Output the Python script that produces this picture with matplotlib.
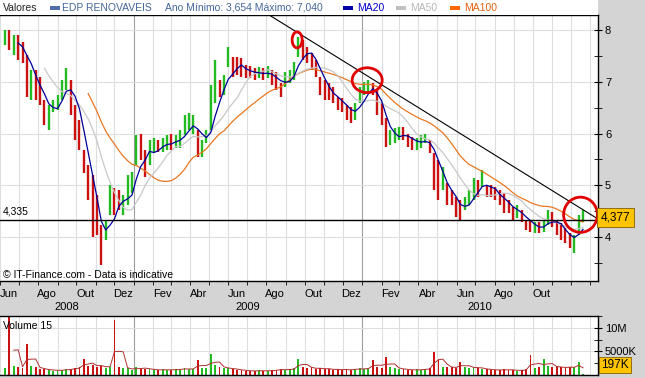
import matplotlib
matplotlib.use('Agg')
import matplotlib.pyplot as plt
import matplotlib.dates as mdates
from matplotlib.patches import Ellipse, Rectangle
from matplotlib.transforms import blended_transform_factory
import pandas as pd

plt.rcParams['font.family'] = ['Liberation Sans', 'DejaVu Sans']

# weekly bars (EUR)
start = '2008-06-09'
high = [8.00, 8.00, 7.90, 7.90, 7.77, 7.52, 7.23, 7.23, 7.09, 6.65,
        6.55, 6.65, 6.74, 7.03, 7.27, 7.03, 6.55, 6.26, 5.68, 5.39,
        5.20, 4.81, 4.23, 4.33, 5.00, 4.95, 4.91, 4.81, 5.20, 5.26,
        5.97, 6.00, 5.68, 5.87, 5.91, 5.87, 5.91, 5.97, 6.00, 5.97,
        6.07, 6.36, 6.39, 6.36, 6.07, 5.87, 6.07, 6.94, 7.42, 7.03,
        7.13, 7.67, 7.48, 7.48, 7.46, 7.32, 7.30, 7.27, 7.28, 7.27,
        7.30, 7.23, 7.19, 6.98, 7.19, 7.23, 7.38, 7.86, 7.81, 7.67,
        7.56, 7.42, 7.09, 7.03, 6.98, 6.90, 6.71, 6.69, 6.55, 6.51,
        6.59, 6.90, 7.00, 7.03, 6.98, 6.84, 6.59, 6.30, 6.07, 6.10,
        6.12, 6.12, 6.00, 5.93, 5.91, 5.97, 6.00, 5.87, 5.62, 5.49,
        5.36, 5.05, 4.91, 4.78, 4.71, 4.78, 4.91, 5.14, 5.10, 5.30,
        5.00, 5.00, 4.97, 4.91, 4.85, 4.71, 4.58, 4.62, 4.52, 4.33,
        4.33, 4.29, 4.29, 4.33, 4.52, 4.48, 4.33, 4.27, 4.17, 4.08,
        4.04, 4.43, 4.52]
low = [7.71, 7.61, 7.52, 7.42, 7.36, 6.71, 6.65, 6.65, 6.55, 6.16,
       6.07, 6.41, 6.45, 6.65, 6.84, 6.36, 5.87, 5.68, 5.24, 4.71,
       4.00, 4.04, 3.46, 3.94, 4.43, 4.43, 4.52, 4.43, 4.62, 4.85,
       5.39, 5.49, 5.16, 5.39, 5.62, 5.64, 5.64, 5.68, 5.68, 5.72,
       5.72, 5.97, 6.07, 6.00, 5.55, 5.55, 5.81, 6.07, 6.59, 6.71,
       6.74, 7.28, 7.09, 7.13, 7.09, 7.07, 7.07, 7.03, 7.07, 7.03,
       7.07, 6.94, 6.84, 6.71, 6.90, 6.98, 7.03, 7.48, 7.42, 7.36,
       7.23, 7.09, 6.74, 6.65, 6.65, 6.59, 6.45, 6.41, 6.26, 6.20,
       6.26, 6.59, 6.74, 6.80, 6.74, 6.36, 6.16, 5.74, 5.78, 5.81,
       5.87, 5.87, 5.74, 5.68, 5.68, 5.72, 5.81, 5.62, 4.91, 4.71,
       4.91, 4.62, 4.62, 4.39, 4.33, 4.52, 4.62, 4.71, 4.78, 4.97,
       4.78, 4.78, 4.71, 4.62, 4.46, 4.46, 4.33, 4.37, 4.29, 4.14,
       4.10, 4.08, 4.08, 4.10, 4.23, 4.20, 4.04, 3.94, 3.88, 3.79,
       3.69, 4.04, 4.29]
close = [7.80, 7.71, 7.77, 7.71, 7.52, 7.03, 7.13, 6.84, 6.74, 6.36,
         6.36, 6.55, 6.65, 6.94, 7.13, 6.65, 6.16, 5.97, 5.49, 4.91,
         4.43, 4.23, 3.65, 4.23, 4.81, 4.71, 4.62, 4.62, 5.00, 5.00,
         5.87, 5.58, 5.49, 5.68, 5.78, 5.72, 5.78, 5.87, 5.83, 5.87,
         5.91, 6.16, 6.26, 6.26, 5.68, 5.78, 5.97, 6.65, 6.94, 6.84,
         6.94, 7.48, 7.32, 7.27, 7.23, 7.19, 7.17, 7.15, 7.19, 7.13,
         7.19, 7.07, 6.94, 6.88, 7.07, 7.13, 7.32, 7.71, 7.61, 7.52,
         7.38, 7.23, 6.88, 6.80, 6.74, 6.71, 6.59, 6.49, 6.42, 6.36,
         6.45, 6.80, 6.88, 6.94, 6.84, 6.45, 6.30, 5.87, 5.91, 5.97,
         6.00, 5.97, 5.87, 5.78, 5.81, 5.87, 5.93, 5.68, 5.29, 5.00,
         5.10, 4.81, 4.71, 4.52, 4.48, 4.66, 4.81, 5.00, 4.95, 5.14,
         4.91, 4.87, 4.81, 4.71, 4.62, 4.56, 4.46, 4.48, 4.39, 4.23,
         4.17, 4.20, 4.17, 4.23, 4.43, 4.33, 4.17, 4.10, 3.98, 3.94,
         3.94, 4.33, 4.377]
# volume in millions of shares
volume = [1.5, 12.3, 2.0, 1.8, 1.5, 6.6, 2.0, 1.6, 1.2, 1.3,
          1.0, 0.9, 1.1, 1.0, 1.2, 1.3, 1.5, 1.6, 3.4, 2.0,
          2.2, 1.8, 2.0, 1.5, 1.8, 11.6, 1.7, 1.5, 1.4, 1.0,
          1.6, 1.5, 1.3, 1.2, 1.1, 1.0, 1.2, 1.1, 1.0, 1.3,
          1.2, 1.4, 1.2, 1.3, 3.2, 1.5, 1.4, 4.5, 2.2, 1.6,
          1.4, 1.5, 1.2, 1.1, 1.0, 0.9, 0.8, 0.9, 1.0, 0.8,
          0.9, 1.0, 1.1, 1.3, 1.0, 1.2, 1.5, 3.4, 1.8, 1.5,
          1.6, 1.2, 1.5, 1.3, 1.2, 1.1, 1.3, 1.0, 1.2, 1.1,
          1.3, 1.4, 1.2, 1.5, 3.2, 1.6, 1.4, 3.8, 1.8, 1.4,
          1.3, 1.2, 1.1, 1.0, 1.2, 1.1, 1.3, 1.4, 4.8, 3.5,
          1.8, 1.6, 1.7, 1.5, 2.8, 1.6, 1.5, 1.8, 1.4, 1.3,
          1.2, 1.1, 1.0, 1.1, 1.2, 1.0, 1.1, 0.9, 1.0, 1.2,
          4.3, 1.5, 1.6, 3.5, 2.0, 1.8, 1.6, 1.7, 1.5, 1.8,
          1.6, 2.8, 0.197]

support = 4.335
trend_dates = ['2009-07-15', '2011-01-10']
trend_prices = [8.45, 4.37]
circles = [('2009-09-19', 7.81, 16, 0.31),
           ('2010-01-09', 7.03, 48, 0.48),
           ('2010-12-16', 4.43, 54, 0.68)]
month_pt = ['Jan', 'Fev', 'Mar', 'Abr', 'Mai', 'Jun',
            'Jul', 'Ago', 'Set', 'Out', 'Nov', 'Dez']

W, H = 645, 378
GRAY = '#d4d4d4'
GREEN = '#22bb22'
RED = '#cc1111'


def fx(px):
    return px / W


def fy(py):
    return 1 - py / H


dates = pd.date_range(start, periods=len(close), freq='7D')
xd = mdates.date2num(dates)
s = pd.Series(close)
ma20 = s.rolling(4).mean()
ma50 = s.rolling(10).mean()
ma100 = s.rolling(20).mean()
vol_ma = pd.Series(volume).rolling(3).mean()
cols = [GREEN if i == 0 or close[i] >= close[i - 1] else RED
        for i in range(len(close))]

fig = plt.figure(figsize=(W / 100, H / 100), dpi=100, facecolor=GRAY)
fig.patches.append(Rectangle((0, fy(15)), fx(598), 15 / H,
                             transform=fig.transFigure, fc='white',
                             ec='none', zorder=0))

ax = fig.add_axes([0, fy(281), fx(598), (281 - 15) / H])
axv = fig.add_axes([0, fy(375), fx(598), (375 - 316) / H], sharex=ax)

xmin = mdates.date2num(pd.Timestamp('2008-06-01'))
xmax = mdates.date2num(pd.Timestamp('2011-01-13'))
month_starts = pd.date_range('2008-06-01', '2011-01-01', freq='MS')
year_starts = [pd.Timestamp('2009-01-01'), pd.Timestamp('2010-01-01')]

for a in (ax, axv):
    a.set_facecolor('white')
    for m in month_starts:
        c = '#a0a0a0' if m in year_starts else '#dedede'
        a.axvline(mdates.date2num(m), color=c, lw=0.8, zorder=0)
    a.spines['left'].set_visible(False)
    for sp in ('top', 'right', 'bottom'):
        a.spines[sp].set_color('black')
        a.spines[sp].set_linewidth(1)
    a.yaxis.tick_right()

# price panel
for v in range(4, 9):
    ax.axhline(v, color='#dedede', lw=0.8, zorder=0)
ax.vlines(xd, low, high, colors=cols, lw=1.7, zorder=2)
ax.plot(xd, ma100, color='#e87722', lw=0.9, zorder=3)
ax.plot(xd, ma50, color='#c8c8c8', lw=0.9, zorder=3)
ax.plot(xd, ma20, color='#000099', lw=0.9, zorder=3)
ax.axhline(support, color='black', lw=1, zorder=4)
ax.plot(mdates.date2num(pd.to_datetime(trend_dates)), trend_prices,
        color='black', lw=0.8, zorder=4)
for d, p, w, h in circles:
    ax.add_patch(Ellipse((mdates.date2num(pd.Timestamp(d)), p), w, h,
                         fill=False, ec='#e00000', lw=2, zorder=5))

ax.set_xlim(xmin, xmax)
ax.set_ylim(3.15, 8.29)
ax.set_yticks(range(4, 9))
ax.set_yticks([x + 0.5 for x in range(3, 8)], minor=True)
ax.tick_params(axis='y', which='both', direction='inout', length=6,
               labelsize=8, pad=2, right=True, left=False)

label_months = [m + pd.Timedelta(days=14) for m in month_starts
                if m.month % 2 == 0 and m < pd.Timestamp('2010-11-01')]
ax.set_xticks(mdates.date2num(label_months))
ax.set_xticklabels([month_pt[m.month - 1] for m in label_months])
ax.set_xticks(mdates.date2num(month_starts), minor=True)
ax.tick_params(axis='x', which='major', length=0, labelsize=8, pad=6)
ax.tick_params(axis='x', which='minor', direction='out', length=3)

tr = blended_transform_factory(ax.transData, ax.transAxes)
edges = [xmin] + [mdates.date2num(y) for y in year_starts] + [xmax]
for i, yr in enumerate(['2008', '2009', '2010']):
    ax.text((edges[i] + edges[i + 1]) / 2, -0.098, yr, transform=tr,
            ha='center', va='center', fontsize=8)

trl = blended_transform_factory(ax.transAxes, ax.transData)
ax.text(0.005, support + 0.06, f'{support:.3f}'.replace('.', ','),
        transform=trl, fontsize=7.5, va='bottom')
ax.text(0.005, 0.022, '\u00a9 IT-Finance.com - Data is indicative',
        transform=ax.transAxes, fontsize=7.5, va='center')

ax.text(1.005, close[-1], f'{close[-1]:.3f}'.replace('.', ','),
        transform=trl, fontsize=8.5, va='center', ha='left', zorder=6,
        bbox=dict(boxstyle='square,pad=0.3', fc='#ffc400', ec='#806000',
                  lw=0.6), clip_on=False)

# volume panel
axv.axhline(5, color='#dedede', lw=0.8, zorder=0)
axv.axhline(10, color='#dedede', lw=0.8, zorder=0)
axv.bar(xd, volume, width=3, color=cols, zorder=2)
axv.plot(xd, vol_ma, color='#b03030', lw=0.7, zorder=3)
axv.set_ylim(0, 12.55)
axv.set_yticks([5, 10])
axv.set_yticklabels(['5000K', '10M'])
axv.set_yticks([2.5, 7.5, 12.5], minor=True)
axv.tick_params(axis='y', which='both', direction='inout', length=6,
                labelsize=8, pad=2, right=True, left=False)
axv.tick_params(axis='x', which='both', length=0, labelbottom=False)
axv.text(0.005, 0.83, 'Volume 15', transform=axv.transAxes, fontsize=7.5,
         va='center')
axv.text(1.005, 0.17, f'{int(round(volume[-1] * 1000))}K',
         transform=axv.transAxes, fontsize=8.5, va='center', ha='left',
         bbox=dict(boxstyle='square,pad=0.2', fc='#ffc400', ec='#806000',
                   lw=0.6), clip_on=False)

# legend row
ty = fy(8)
fig.text(fx(3), ty, 'Valores', fontsize=7.5, va='center', color='#222222')
legend = [(50, '#4f6fa8', 62, 'EDP RENOVAVEIS', '#45679a'),
          (None, None, 165, 'Ano M\u00ednimo: 3,654 M\u00e1ximo: 7,040',
           '#45679a'),
          (343, '#0000aa', 357, 'MA20', '#0000cc'),
          (396, '#c0c0c0', 410, 'MA50', '#b8b8b8'),
          (450, '#ff6600', 464, 'MA100', '#e06010')]
for sx, sc, tx, txt, tc in legend:
    if sx is not None:
        fig.patches.append(Rectangle((fx(sx), fy(10)), fx(10), 4 / H,
                                     transform=fig.transFigure, fc=sc,
                                     ec='none'))
    fig.text(fx(tx), ty, txt, fontsize=7.5, va='center', color=tc)

fig.savefig('out.png', dpi=100, facecolor=GRAY)
